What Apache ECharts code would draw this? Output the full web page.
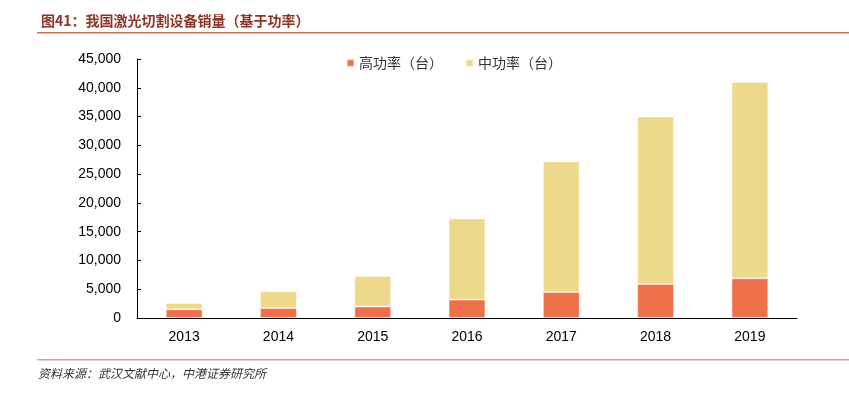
<!DOCTYPE html>
<html>
<head>
<meta charset="utf-8">
<script src="https://cdn.jsdelivr.net/npm/echarts@6/dist/echarts.min.js"></script>
<style>
html,body{margin:0;padding:0;background:#fff;}
#c{width:849px;height:393px;}
</style>
</head>
<body>
<div id="c"></div>
<script>
const categories = ['2013','2014','2015','2016','2017','2018','2019'];
const highPower = [1500, 1750, 2000, 3200, 4500, 5900, 6900];
const midPower = [1100, 2900, 5300, 14100, 22700, 29100, 34100];
const yTicks = [0, 5000, 10000, 15000, 20000, 25000, 30000, 35000, 40000, 45000];

const chart = echarts.init(document.getElementById('c'));
const fmt = v => v.toString().replace(/\B(?=(\d{3})+(?!\d))/g, ',');
chart.setOption({
  animation: false,
  backgroundColor: '#fff',
  title: {
    text: '图41：我国激光切割设备销量（基于功率）',
    left: 36, top: 9,
    textStyle: {fontFamily: 'Noto Sans CJK SC', fontWeight: 'bold', fontSize: 14, color: '#8e3424'}
  },
  legend: {
    left: 341, top: 51,
    itemWidth: 7, itemHeight: 7, itemGap: 22,
    icon: 'rect',
    textStyle: {fontFamily: 'Noto Sans CJK SC', fontSize: 14, color: '#333'},
    data: ['高功率（台）', '中功率（台）']
  },
  grid: {left: 137, right: 52, top: 59, bottom: 75, containLabel: false},
  xAxis: {
    type: 'category', data: categories,
    axisLine: {lineStyle: {color: '#000', width: 1}},
    axisTick: {inside: true, length: 4, lineStyle: {color: '#000'}},
    axisLabel: {color: '#000', fontSize: 14, fontFamily: 'Liberation Sans', margin: 12}
  },
  yAxis: {
    type: 'value', min: yTicks[0], max: yTicks[yTicks.length-1], interval: 5000,
    axisLine: {show: true, lineStyle: {color: '#000', width: 1}},
    axisTick: {show: true, inside: true, length: 4, lineStyle: {color: '#000'}},
    splitLine: {show: false},
    axisLabel: {color: '#000', fontSize: 14, fontFamily: 'Liberation Sans', margin: 16, formatter: fmt}
  },
  series: [
    {name: '高功率（台）', type: 'bar', stack: 'a', data: highPower, barWidth: '39%',
     itemStyle: {color: '#ee704b', borderColor: 'rgba(255,255,255,0.4)', borderWidth: 1}},
    {name: '中功率（台）', type: 'bar', stack: 'a', data: midPower, barWidth: '39%',
     itemStyle: {color: '#eed88b', borderColor: 'rgba(255,255,255,0.4)', borderWidth: 1}}
  ],
  graphic: [
    {type: 'rect', shape: {x: 37, y: 32, width: 812, height: 1.5}, style: {fill: '#c8705a'}},
    {type: 'rect', shape: {x: 37, y: 359, width: 812, height: 1.5}, style: {fill: '#d9a08e'}},
    {type: 'text', left: 38, top: 367, style: {text: '资料来源：武汉文献中心，中港证券研究所', font: 'italic 12px "Noto Sans CJK SC"', fill: '#333'}}
  ]
});
</script>
</body>
</html>
